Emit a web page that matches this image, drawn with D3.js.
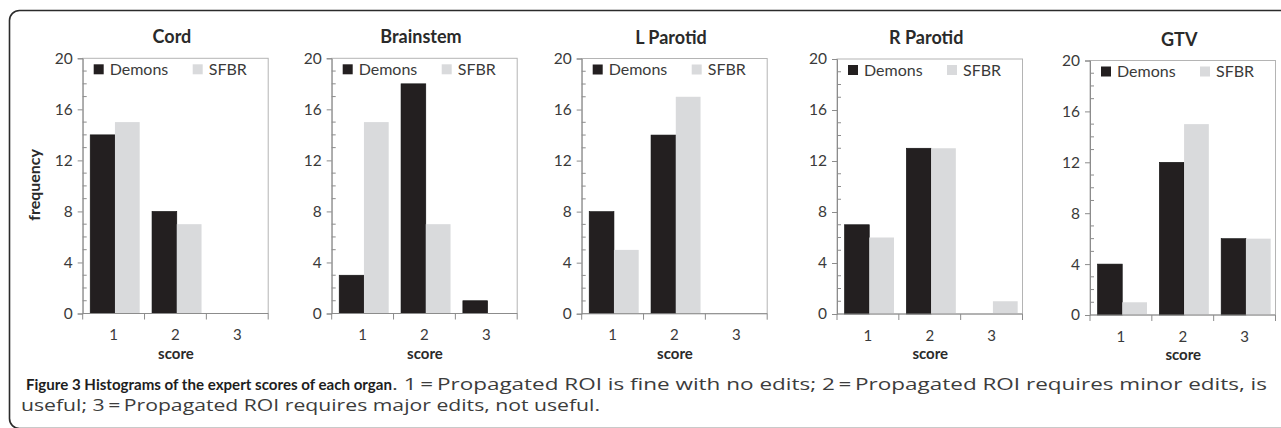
<!DOCTYPE html>
<html>
<head>
<meta charset="utf-8">
<script src="https://cdn.jsdelivr.net/npm/d3@7"></script>
<style>
  html, body { margin: 0; padding: 0; background: #fff; }
  svg { display: block; }
</style>
</head>
<body>
<svg id="chart" width="1281" height="428"></svg>
<script>
// ---------- data ----------
const organs = ["Cord", "Brainstem", "L Parotid", "R Parotid", "GTV"];
const scores = ["1", "2", "3"];
const seriesNames = ["Demons", "SFBR"];
const demons = [
  [14, 8, 0],   // Cord
  [3, 18, 1],   // Brainstem
  [8, 14, 0],   // L Parotid
  [7, 13, 0],   // R Parotid
  [4, 12, 6]    // GTV
];
const sfbr = [
  [15, 7, 0],
  [15, 7, 0],
  [5, 17, 0],
  [6, 13, 1],
  [1, 15, 6]
];
const yTicks = [0, 4, 8, 12, 16, 20];
const yMinorTicks = d3.range(0, 21, 1).filter(v => v % 4 !== 0);
const yLabel = "frequency";
const xLabel = "score";
const captionBold = "Figure 3 Histograms of the expert scores of each organ";
const captionRest1 = ". 1\u2009=\u2009Propagated ROI is fine with no edits; 2\u2009=\u2009Propagated ROI requires minor edits, is";
const captionLine2 = "useful; 3\u2009=\u2009Propagated ROI requires major edits, not useful.";

// ---------- layout ----------
const panelLeft = [82.7, 331.7, 581.7, 837, 1090];
const panelTop = [58.3, 58.3, 58.5, 59, 60.5];
const panelBottom = [313.5, 313.5, 313.7, 314, 315];
const panelWidth = 185.5;
const colors = { Demons: "#231f20", SFBR: "#d9dadc" };
const chartFont = "Lato, 'Open Sans', sans-serif";

const svg = d3.select("#chart");

// outer rounded frame
svg.append("rect")
  .attr("x", 9.5).attr("y", 10.5)
  .attr("width", 1300).attr("height", 418)
  .attr("rx", 10).attr("ry", 10)
  .attr("fill", "none").attr("stroke", "#2b2b2b").attr("stroke-width", 1.6);

organs.forEach((organ, i) => {
  const left = panelLeft[i], top = panelTop[i], bottom = panelBottom[i];
  const g = svg.append("g").attr("transform", `translate(${left},0)`);

  const x0 = d3.scaleBand().domain(scores).range([0, panelWidth]).padding(0);
  const groupOffset = 7.5, groupWidth = 49.5;
  const x1 = d3.scaleBand().domain(seriesNames).range([groupOffset, groupOffset + groupWidth]).padding(0);
  const y = d3.scaleLinear().domain([0, 20]).range([bottom, top]);

  // plot area border
  g.append("rect")
    .attr("x", 0).attr("y", top)
    .attr("width", panelWidth).attr("height", bottom - top)
    .attr("fill", "none").attr("stroke", "#b4b4b4").attr("stroke-width", 1);

  // bars
  const rows = scores.map((s, j) => ({ score: s, Demons: demons[i][j], SFBR: sfbr[i][j] }));
  const grp = g.selectAll("g.cat").data(rows).join("g")
    .attr("class", "cat")
    .attr("transform", d => `translate(${x0(d.score)},0)`);
  grp.selectAll("rect").data(d => seriesNames.map(k => ({ key: k, value: d[k] })))
    .join("rect")
    .attr("x", d => x1(d.key))
    .attr("width", x1.bandwidth())
    .attr("y", d => y(d.value))
    .attr("height", d => y(0) - y(d.value))
    .attr("fill", d => colors[d.key])
    .attr("stroke", d => d.key === "Demons" ? "#111" : "none")
    .attr("stroke-width", 0.6);

  // y axis
  const yAxis = d3.axisLeft(y).tickValues(yTicks).tickSize(5).tickPadding(5);
  const ya = g.append("g").call(yAxis);
  ya.select(".domain").attr("stroke", "#8c8c8c");
  ya.selectAll(".tick line").attr("stroke", "#8c8c8c");
  ya.selectAll(".tick text")
    .attr("font-family", chartFont).attr("font-size", 15.5).attr("fill", "#3a3a3a");
  // minor ticks inside
  g.append("g").selectAll("line").data(yMinorTicks).join("line")
    .attr("x1", 0).attr("x2", 4)
    .attr("y1", d => y(d)).attr("y2", d => y(d))
    .attr("stroke", "#8c8c8c").attr("stroke-width", 1);

  // x axis with ticks at category boundaries
  const xa = g.append("g").attr("transform", `translate(0,${bottom})`);
  xa.append("line").attr("x1", 0).attr("x2", panelWidth).attr("y1", 0).attr("y2", 0)
    .attr("stroke", "#8c8c8c");
  const bounds = scores.map(s => x0(s)).concat([x0(scores[scores.length - 1]) + x0.bandwidth()]);
  xa.selectAll("line.bt").data(bounds).join("line").attr("class", "bt")
    .attr("x1", d => d).attr("x2", d => d).attr("y1", 0).attr("y2", 6)
    .attr("stroke", "#8c8c8c");
  xa.selectAll("text.xl").data(scores).join("text").attr("class", "xl")
    .attr("x", d => x0(d) + x0.bandwidth() / 2)
    .attr("y", 26.5)
    .attr("text-anchor", "middle")
    .attr("font-family", chartFont).attr("font-size", 15).attr("fill", "#3a3a3a")
    .text(d => d);
  g.append("text")
    .attr("x", panelWidth / 2 + 0.5).attr("y", bottom + 45)
    .attr("text-anchor", "middle")
    .attr("font-family", chartFont).attr("font-weight", "bold")
    .attr("font-size", 15).attr("fill", "#2a2a2a")
    .text(xLabel);

  // title
  g.append("text")
    .attr("x", panelWidth / 2 - 3.5).attr("y", top - 15)
    .attr("text-anchor", "middle")
    .attr("font-family", chartFont).attr("font-weight", "bold")
    .attr("font-size", 18).attr("fill", "#2a2a2a")
    .text(organ);

  // legend
  const lg = g.append("g").attr("transform", `translate(0,${top})`);
  const legendX = [11, 110];
  seriesNames.forEach((name, k) => {
    lg.append("rect")
      .attr("x", legendX[k]).attr("y", 6)
      .attr("width", 10).attr("height", 10)
      .attr("fill", colors[name]);
    lg.append("text")
      .attr("x", legendX[k] + 16).attr("y", 16.5)
      .attr("font-family", chartFont).attr("font-size", 16).attr("fill", "#3a3a3a")
      .text(name);
  });

  if (i === 0) {
    svg.append("text")
      .attr("transform", `translate(40,${(top + bottom) / 2 - 1}) rotate(-90)`)
      .attr("text-anchor", "middle")
      .attr("font-family", chartFont).attr("font-weight", "bold")
      .attr("font-size", 16).attr("fill", "#2a2a2a")
      .text(yLabel);
  }
});

// caption
svg.append("text")
  .attr("x", 26).attr("y", 390)
  .attr("font-family", "Lato, 'Open Sans', sans-serif").attr("font-weight", "bold")
  .attr("font-size", 15.5).attr("fill", "#1e1e1e")
  .attr("textLength", 366).attr("lengthAdjust", "spacingAndGlyphs")
  .text(captionBold);
svg.append("text")
  .attr("x", 392).attr("y", 390)
  .attr("font-family", "'Open Sans', 'Noto Sans', sans-serif")
  .attr("font-size", 16.5).attr("fill", "#3c3c3c")
  .attr("textLength", 875).attr("lengthAdjust", "spacingAndGlyphs")
  .text(captionRest1);
svg.append("text")
  .attr("x", 21).attr("y", 411)
  .attr("font-family", "'Open Sans', 'Noto Sans', sans-serif")
  .attr("font-size", 16.5).attr("fill", "#3c3c3c")
  .attr("textLength", 579).attr("lengthAdjust", "spacingAndGlyphs")
  .text(captionLine2);
</script>
</body>
</html>
